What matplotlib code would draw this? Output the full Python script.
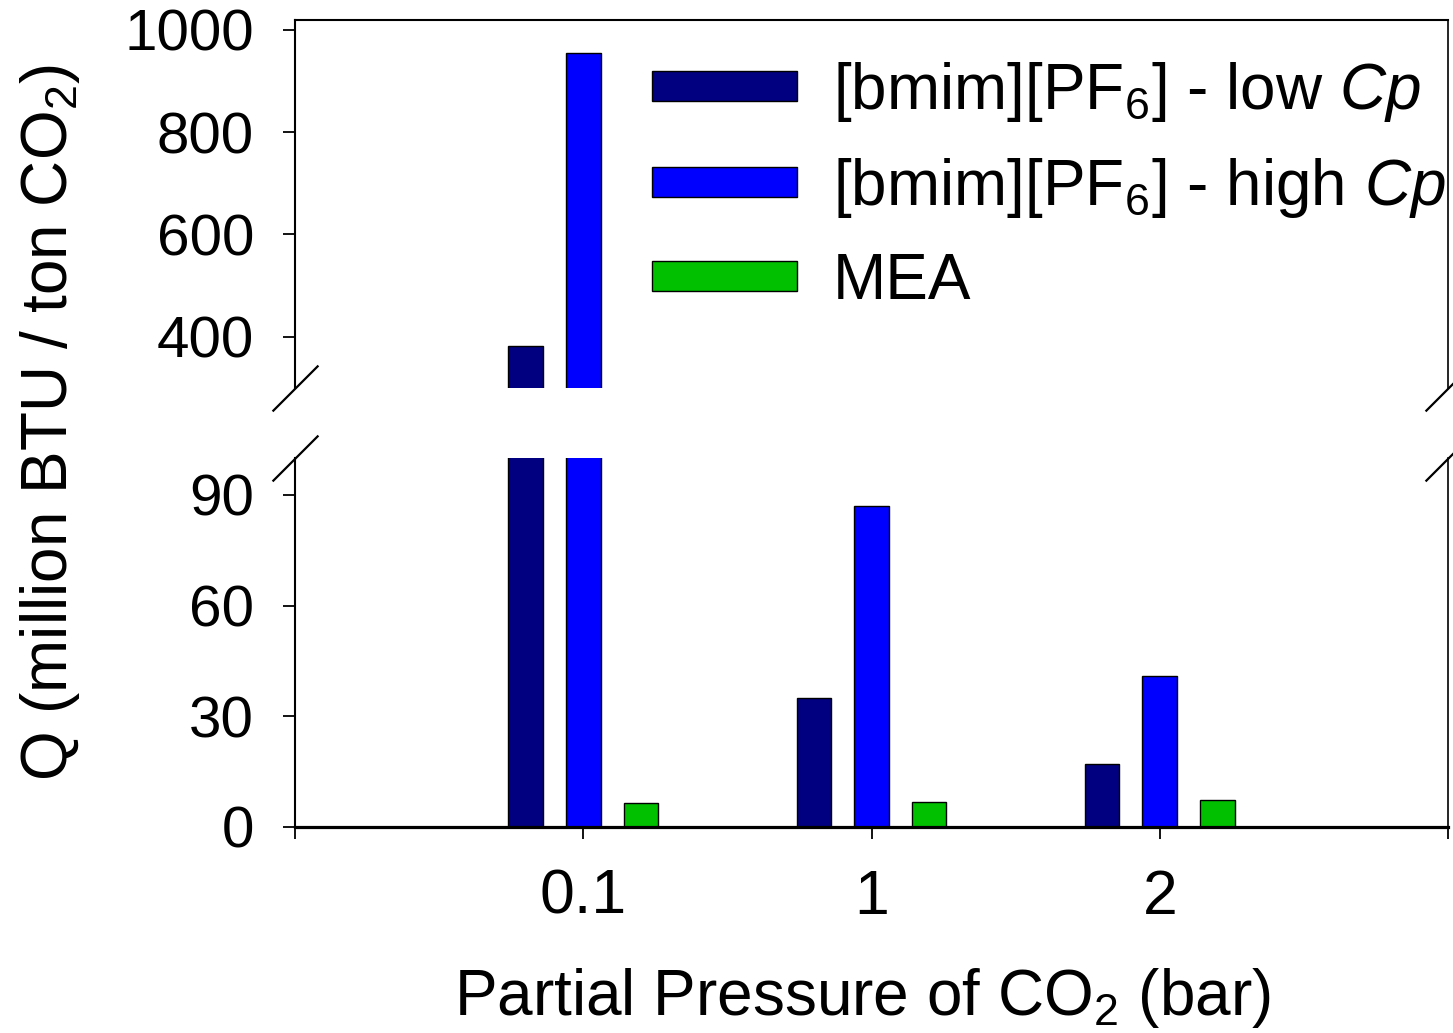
import matplotlib
matplotlib.use("Agg")
import matplotlib.pyplot as plt
import numpy as np

plt.rcParams['font.family'] = ['Liberation Sans', 'DejaVu Sans']
plt.rcParams['mathtext.fontset'] = 'custom'
plt.rcParams['mathtext.rm'] = 'Liberation Sans'
plt.rcParams['mathtext.it'] = 'Liberation Sans:italic'
plt.rcParams['mathtext.default'] = 'regular'

categories = ['0.1', '1', '2']
low_cp = [382, 35, 17]
high_cp = [955, 87, 41]
mea = [6.5, 6.8, 7.3]
series_labels = [r'[bmim][PF$_6$] - low $\mathit{Cp}$',
                 r'[bmim][PF$_6$] - high $\mathit{Cp}$',
                 'MEA']
colors = ['#000080', '#0000FF', '#00C000']
top_ticks = [400, 600, 800, 1000]
bot_ticks = [0, 30, 60, 90]

W, H = 1453, 1033
fig = plt.figure(figsize=(W / 100, H / 100), dpi=100)

def fx(px):
    return px / W

def fy(py):
    return 1 - py / H

L, R = 295, 1448
ax_top = fig.add_axes([fx(L), fy(388), fx(R) - fx(L), fy(19.5) - fy(388)])
ax_bot = fig.add_axes([fx(L), fy(827), fx(R) - fx(L), fy(458) - fy(827)])

x = np.arange(len(categories))
width = 0.12
offsets = [-0.2, 0.0, 0.2]
data = [low_cp, high_cp, mea]

for ax in (ax_top, ax_bot):
    for vals, off, c, lab in zip(data, offsets, colors, series_labels):
        ax.bar(x + off, vals, width, color=c, edgecolor='black',
               linewidth=1.0, label=lab)
    ax.set_xlim(-1, 3)
    ax.tick_params(axis='both', length=8.5, width=1.3, direction='out')
    ax.tick_params(axis='y', labelsize=42, pad=21)

ax_top.set_ylim(300, 1020)
ax_bot.set_ylim(0, 100)
ax_top.set_yticks(top_ticks)
ax_bot.set_yticks(bot_ticks)

ax_top.spines['bottom'].set_visible(False)
ax_top.tick_params(axis='x', bottom=False, labelbottom=False)
ax_bot.spines['top'].set_visible(False)

for ax in (ax_top, ax_bot):
    ax.spines['left'].set_linewidth(1.5)
    ax.spines['right'].set_linewidth(1.2)
    ax.spines['top'].set_linewidth(1.5)
ax_bot.spines['bottom'].set_linewidth(2.3)

ax_bot.set_xticks([-1, 0, 1, 2, 3])
ax_bot.set_xticklabels([''] + categories + [''])
ax_bot.tick_params(axis='x', labelsize=45, pad=21)

# break marks
kw = dict(marker=[(-1, -1), (1, 1)], markersize=33, linestyle='none',
          color='k', mec='k', mew=1.6, clip_on=False)
ax_top.plot([0, 1], [0, 0], transform=ax_top.transAxes, **kw)
ax_bot.plot([0, 1], [1, 1], transform=ax_bot.transAxes, **kw)

# legend
handles, labels = ax_top.get_legend_handles_labels()
fig.legend(handles, labels, loc='upper left',
           bbox_to_anchor=(fx(652), fy(60)), frameon=False,
           fontsize=46, handlelength=2.27, handleheight=0.36,
           handletextpad=0.56, labelspacing=0.5, borderpad=0,
           borderaxespad=0)

fig.text(fx(50), fy(422), r'Q (million BTU / ton CO$_2$)', rotation=90,
         ha='center', va='center', fontsize=46)
fig.text(fx(862), fy(1015), r'Partial Pressure of CO$_2$ (bar)',
         ha='center', va='baseline', fontsize=46)

fig.savefig('out.png', dpi=100)
